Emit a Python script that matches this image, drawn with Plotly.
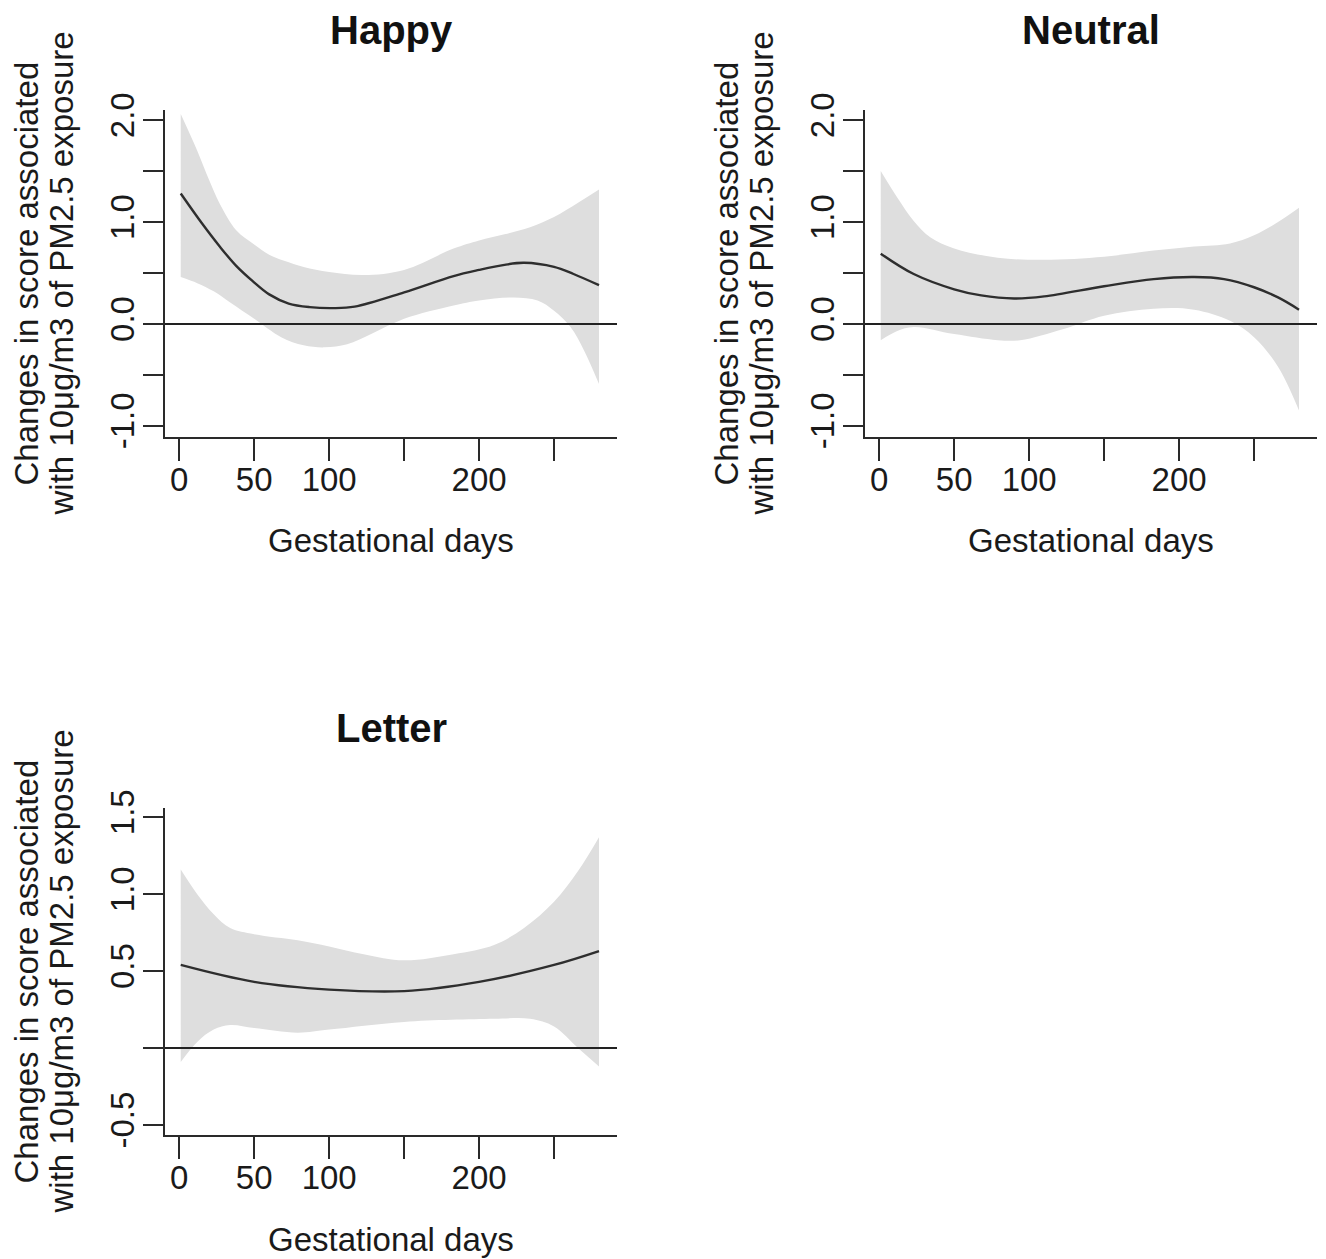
import plotly.graph_objects as go

# page has an 8px body margin; figure is sized to fill the rest of the window
OFF = 8
W, H = 1326 - OFF, 1259 - OFF
FONT = "Liberation Sans, Arial, Helvetica, sans-serif"
TXT = "#1a1a1a"
AX = "#2a2a2a"

# ---------------- data ----------------
panel_titles = ["Happy", "Neutral", "Letter"]

happy_fit_days = [1, 15, 27, 38, 49, 60, 73, 87, 103, 117, 150, 183, 200, 217, 230, 250, 263, 280]
happy_fit = [1.28, 0.99, 0.76, 0.57, 0.42, 0.29, 0.20, 0.165, 0.155, 0.17, 0.31, 0.47, 0.53, 0.58, 0.60, 0.56, 0.49, 0.38]
happy_up_days = [1, 12, 20, 27, 38, 50, 60, 70, 83, 100, 123, 150, 183, 200, 217, 234, 250, 266, 280]
happy_upper = [2.06, 1.70, 1.41, 1.18, 0.92, 0.78, 0.68, 0.62, 0.56, 0.51, 0.48, 0.53, 0.74, 0.82, 0.88, 0.95, 1.05, 1.19, 1.32]
happy_lo_days = [1, 12, 23, 34, 50, 68, 83, 97, 112, 128, 150, 183, 200, 223, 239, 250, 261, 270, 280]
happy_lower = [0.46, 0.40, 0.32, 0.21, 0.05, -0.13, -0.21, -0.23, -0.20, -0.10, 0.05, 0.18, 0.23, 0.26, 0.23, 0.13, -0.03, -0.26, -0.59]

neutral_fit_days = [1, 23, 50, 68, 90, 110, 150, 183, 210, 230, 250, 266, 280]
neutral_fit = [0.69, 0.49, 0.34, 0.28, 0.25, 0.27, 0.37, 0.44, 0.46, 0.44, 0.36, 0.26, 0.14]
neutral_up_days = [1, 12, 23, 34, 50, 79, 110, 150, 183, 210, 234, 250, 266, 280]
neutral_upper = [1.50, 1.24, 1.01, 0.85, 0.74, 0.65, 0.63, 0.66, 0.72, 0.76, 0.79, 0.87, 1.00, 1.14]
neutral_lo_days = [1, 12, 23, 50, 79, 94, 123, 150, 183, 210, 234, 250, 266, 280]
neutral_lower = [-0.16, -0.07, -0.03, -0.10, -0.16, -0.16, -0.05, 0.08, 0.15, 0.14, 0.03, -0.13, -0.42, -0.85]

letter_fit_days = [1, 50, 100, 150, 200, 250, 280]
letter_fit = [0.54, 0.43, 0.38, 0.37, 0.43, 0.54, 0.63]
letter_up_days = [1, 12, 23, 34, 50, 79, 100, 123, 150, 183, 210, 230, 250, 266, 280]
letter_upper = [1.16, 1.00, 0.87, 0.78, 0.74, 0.70, 0.66, 0.61, 0.57, 0.61, 0.67, 0.78, 0.95, 1.15, 1.37]
letter_lo_days = [1, 12, 23, 34, 50, 79, 100, 150, 210, 234, 250, 266, 280]
letter_lower = [-0.09, 0.04, 0.12, 0.15, 0.13, 0.10, 0.12, 0.17, 0.19, 0.19, 0.14, 0.00, -0.12]

x_tickvals = [0, 50, 100, 150, 200, 250]
x_ticktext = ["0", "50", "100", "", "200", ""]

top_tickvals = [-1.0, -0.5, 0.0, 0.5, 1.0, 1.5, 2.0]
top_ticktext = ["-1.0", "", "0.0", "", "1.0", "", "2.0"]

letter_tickvals = [-0.5, 0.0, 0.5, 1.0, 1.5]
letter_ticktext = ["-0.5", "", "0.5", "1.0", "1.5"]

x_title = "Gestational days"
y_title_1 = "Changes in score associated"
y_title_2 = "with 10\u03bcg/m3 of PM2.5 exposure"


def fx(px):
    return (px - OFF) / W


def fy(py):
    return 1 - (py - OFF) / H


# ---------------- layout geometry (window pixels) ----------------
panels = [
    dict(fd=happy_fit_days, fit=happy_fit, ld=happy_lo_days, lo=happy_lower,
         ud=happy_up_days, hi=happy_upper,
         px=(165, 617), py=(110, 437), yr=[-1.11, 2.10],
         tv=top_tickvals, tt=top_ticktext),
    dict(fd=neutral_fit_days, fit=neutral_fit, ld=neutral_lo_days, lo=neutral_lower,
         ud=neutral_up_days, hi=neutral_upper,
         px=(865, 1317), py=(110, 437), yr=[-1.11, 2.10],
         tv=top_tickvals, tt=top_ticktext),
    dict(fd=letter_fit_days, fit=letter_fit, ld=letter_lo_days, lo=letter_lower,
         ud=letter_up_days, hi=letter_upper,
         px=(165, 617), py=(808, 1135), yr=[-0.565, 1.56],
         tv=letter_tickvals, tt=letter_ticktext),
]

fig = go.Figure()
annotations = []
shapes = []

for i, (p, title) in enumerate(zip(panels, panel_titles)):
    sfx = "" if i == 0 else str(i + 1)
    xa, ya = "x" + sfx, "y" + sfx
    common = dict(xaxis=xa, yaxis=ya, showlegend=False, hoverinfo="skip")
    fig.add_trace(go.Scatter(x=p["ld"], y=p["lo"], mode="lines",
                             line=dict(width=0, shape="spline", color="#dedede"), **common))
    fig.add_trace(go.Scatter(x=p["ud"], y=p["hi"], mode="lines", fill="tonexty",
                             fillcolor="#dedede",
                             line=dict(width=0, shape="spline", color="#dedede"), **common))
    fig.add_trace(go.Scatter(x=p["fd"], y=p["fit"], mode="lines",
                             line=dict(width=2.4, shape="spline", color="#2e2e2e"), **common))

    x0, x1 = p["px"]
    ytop, ybot = p["py"]
    fig.update_layout(**{
        "xaxis" + sfx: dict(
            domain=[fx(x0), fx(x1)], range=[-9.5, 292], anchor=ya,
            tickvals=x_tickvals, ticktext=x_ticktext,
            ticks="outside", ticklen=22, tickwidth=2, tickcolor=AX,
            showline=True, linecolor=AX, linewidth=2,
            showgrid=False, zeroline=False, automargin=False,
            tickfont=dict(family=FONT, size=33, color=TXT),
            ticklabelstandoff=-10,
        ),
        "yaxis" + sfx: dict(
            domain=[fy(ybot), fy(ytop)], range=p["yr"], anchor=xa,
            tickvals=p["tv"], ticktext=p["tt"], tickangle=-90,
            ticks="outside", ticklen=20, tickwidth=2, tickcolor=AX,
            showline=True, linecolor=AX, linewidth=2,
            showgrid=False, zeroline=False, automargin=False,
            tickfont=dict(family=FONT, size=33, color=TXT),
            ticklabelstandoff=-4,
        ),
    })

    shapes.append(dict(type="line", xref=xa + " domain", yref=ya, x0=0, x1=1, y0=0, y1=0,
                       line=dict(color="#222222", width=2), layer="above"))

    xc = (x0 + x1) / 2
    annotations.append(dict(text="<b>" + title + "</b>", x=fx(xc), y=fy(ytop - 80),
                            xref="paper", yref="paper", xanchor="center", yanchor="middle",
                            showarrow=False, font=dict(family=FONT, size=40, color="#111111")))
    annotations.append(dict(text=x_title, x=fx(xc), y=fy(ybot + 104),
                            xref="paper", yref="paper", xanchor="center", yanchor="middle",
                            showarrow=False, font=dict(family=FONT, size=33, color=TXT)))
    yc = (ytop + ybot) / 2
    left = x0 - 165
    annotations.append(dict(text=y_title_1, x=fx(left + 26), y=fy(yc), textangle=-90,
                            xref="paper", yref="paper", xanchor="center", yanchor="middle",
                            showarrow=False, font=dict(family=FONT, size=33, color=TXT)))
    annotations.append(dict(text=y_title_2, x=fx(left + 61), y=fy(yc), textangle=-90,
                            xref="paper", yref="paper", xanchor="center", yanchor="middle",
                            showarrow=False, font=dict(family=FONT, size=33, color=TXT)))

fig.update_layout(
    width=W, height=H,
    margin=dict(l=0, r=0, t=0, b=0, autoexpand=False),
    paper_bgcolor="white", plot_bgcolor="white",
    annotations=annotations, shapes=shapes,
    font=dict(family=FONT),
)

fig.write_html("out.html")
